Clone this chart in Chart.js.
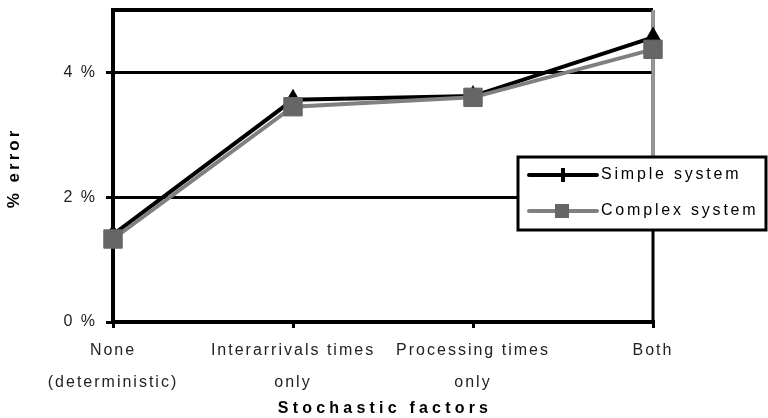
<!DOCTYPE html>
<html><head><meta charset="utf-8">
<script src="https://cdn.jsdelivr.net/npm/chart.js@4/dist/chart.umd.min.js"></script>
<style>html,body{margin:0;padding:0;background:#fff;overflow:hidden}#wrap{width:768px;height:418px;overflow:hidden}#c{display:block;margin-top:-4px}</style>
</head><body><div id="wrap"><canvas id="c" width="768" height="422"></canvas></div>
<script>
const categories = [["None","(deterministic)"],["Interarrivals times","only"],["Processing times","only"],["Both"]];
const simpleSystem = [1.40, 3.56, 3.62, 4.56];
const complexSystem = [1.33, 3.45, 3.60, 4.37];
const yTicks = [0, 2, 4];
const seriesNames = ["Simple system", "Complex system"];
const yTitle = "% error";
const xTitle = "Stochastic factors";

const FAM = "'Liberation Sans',Arial,sans-serif";
const SHIFT = 4;

const spacing = {
  id: 'spacing',
  beforeLayout(chart) { chart.ctx.letterSpacing = '2px'; },
  beforeDraw(chart) { chart.ctx.letterSpacing = '2px'; }
};

const frame = {
  id: 'frame',
  beforeDatasetsDraw(chart) {
    const ctx = chart.ctx, a = chart.chartArea;
    ctx.save();
    ctx.strokeStyle = '#000'; ctx.lineWidth = 4;
    ctx.beginPath(); ctx.moveTo(a.left - 2, a.top); ctx.lineTo(a.right, a.top); ctx.stroke();
    ctx.lineWidth = 3;
    ctx.beginPath(); ctx.moveTo(a.right, a.top); ctx.lineTo(a.right, a.bottom); ctx.stroke();
    ctx.strokeStyle = '#999';
    ctx.beginPath(); ctx.moveTo(a.right, a.top); ctx.lineTo(a.right, 158 + SHIFT); ctx.stroke();
    ctx.restore();
  }
};

const titles = {
  id: 'titles',
  afterDraw(chart) {
    const ctx = chart.ctx, a = chart.chartArea;
    ctx.save();
    ctx.fillStyle = '#000';
    ctx.textAlign = 'center'; ctx.textBaseline = 'middle';
    ctx.letterSpacing = '4.2px';
    ctx.font = "bold 16px " + FAM;
    ctx.fillText(xTitle, (a.left + a.right) / 2 + 2, 409 + SHIFT);
    ctx.save();
    ctx.translate(14, 169 + SHIFT);
    ctx.rotate(-Math.PI / 2);
    ctx.letterSpacing = '3px';
    ctx.font = "bold 17px " + FAM;
    ctx.fillText(yTitle, 1, 0);
    ctx.restore();
    ctx.restore();
  }
};

const legendBox = {
  id: 'legendBox',
  afterDraw(chart) {
    const ctx = chart.ctx, a = chart.chartArea;
    const x0 = a.right - 135, y0 = 157 + SHIFT, w = 248, h = 73;
    ctx.save();
    ctx.fillStyle = '#fff'; ctx.fillRect(x0, y0, w, h);
    ctx.lineWidth = 3; ctx.strokeStyle = '#000'; ctx.strokeRect(x0, y0, w, h);
    chart.data.datasets.forEach((ds, i) => {
      const y = y0 + 18 + i * 36;
      ctx.strokeStyle = ds.borderColor; ctx.lineWidth = 4; ctx.lineCap = 'round';
      ctx.beginPath(); ctx.moveTo(x0 + 11, y); ctx.lineTo(x0 + 79, y); ctx.stroke();
      ctx.fillStyle = ds.backgroundColor;
      if (ds.pointStyle === 'rect') { ctx.fillRect(x0 + 37, y - 7, 14, 14); }
      else { ctx.fillRect(x0 + 43, y - 7, 4, 14); }
      ctx.fillStyle = '#000';
      ctx.letterSpacing = '2.8px';
      ctx.font = "16px " + FAM; ctx.textBaseline = 'middle'; ctx.textAlign = 'left';
      ctx.fillText(ds.label, x0 + 83, y);
    });
    ctx.restore();
  }
};

new Chart(document.getElementById('c'), {
  type: 'line',
  data: {
    labels: categories,
    datasets: [
      { label: seriesNames[0], data: simpleSystem, borderColor: '#000', backgroundColor: '#000',
        borderWidth: 4, pointStyle: 'triangle', pointRadius: 11, pointBorderWidth: 0,
        pointBackgroundColor: '#000', order: 1, clip: false, tension: 0 },
      { label: seriesNames[1], data: complexSystem, borderColor: '#808080', backgroundColor: '#666',
        borderWidth: 4, pointStyle: 'rect', pointRadius: 13, pointBorderWidth: 1, pointBorderColor: '#666',
        pointBackgroundColor: '#666', order: 0, clip: false, tension: 0 }
    ]
  },
  options: {
    responsive: false, animation: false, devicePixelRatio: 1,
    layout: { padding: { top: 10, right: 115, left: 0, bottom: 0 } },
    plugins: { legend: { display: false }, tooltip: { enabled: false } },
    scales: {
      x: {
        offset: false,
        afterFit: s => { s.height = 96; s.paddingLeft = 0; s.paddingRight = 0; },
        grid: { display: true, drawOnChartArea: false, color: '#000', lineWidth: 3, tickLength: 6 },
        border: { color: '#000', width: 4 },
        ticks: { maxRotation: 0, autoSkip: false, font: { family: FAM, size: 16, lineHeight: 2.0 }, color: '#222', padding: 7 },
        title: { display: false }
      },
      y: {
        min: 0, max: 5,
        afterBuildTicks: s => { s.ticks = yTicks.map(v => ({ value: v })); },
        afterFit: s => { s.width = 113; s.paddingTop = 0; s.paddingBottom = 0; },
        grid: { color: '#000', lineWidth: 3, tickLength: 7 },
        border: { color: '#000', width: 4 },
        ticks: { callback: v => v + ' %', font: { family: FAM, size: 16 }, color: '#222', padding: 9 },
        title: { display: false }
      }
    }
  },
  plugins: [spacing, frame, titles, legendBox]
});
</script></body></html>
